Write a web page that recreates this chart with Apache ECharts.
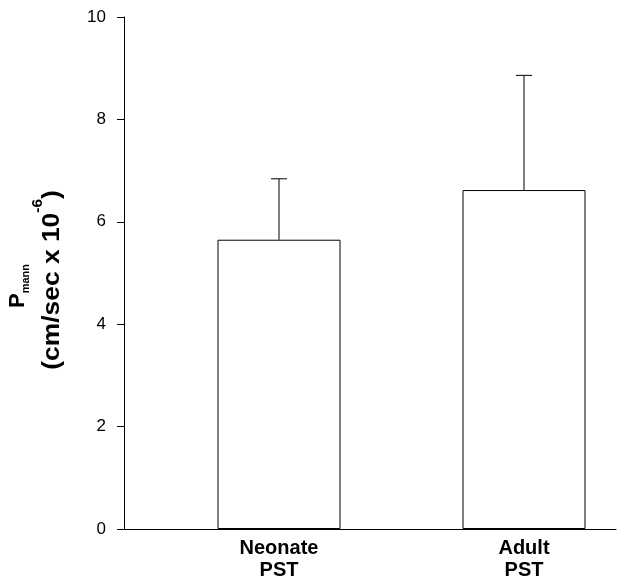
<!DOCTYPE html>
<html><head><meta charset="utf-8">
<script src="https://cdn.jsdelivr.net/npm/echarts@6/dist/echarts.min.js"></script>
<style>html,body{margin:0;padding:0;background:#fff}#c{width:624px;height:583px}</style>
</head><body><div id="c"></div>
<script>
const categories = ['Neonate\nPST', 'Adult\nPST'];
const means = [5.65, 6.62];
const errors = [1.19, 2.24];
const yMin = 0, yMax = 10, yStep = 2;

const FONT = "'Liberation Sans', Arial, Helvetica, sans-serif";
const chart = echarts.init(document.getElementById('c'), null, {renderer: 'canvas'});
const errData = means.map((m, i) => [i, m, m + errors[i]]);

chart.setOption({
  animation: false,
  backgroundColor: '#fff',
  grid: [
    {left: 124, top: 17, width: 492, height: 512},
    {left: 279, top: 17, width: 245, height: 512}
  ],
  xAxis: [
    {gridIndex: 0, type: 'category', data: ['', ''],
     axisLine: {show: true, lineStyle: {color: '#000', width: 1}},
     axisTick: {show: false}, axisLabel: {show: false}, splitLine: {show: false}},
    {gridIndex: 1, type: 'category', data: categories, boundaryGap: false,
     axisLine: {show: false}, axisTick: {show: false}, splitLine: {show: false},
     axisLabel: {color: '#000', fontFamily: FONT, fontWeight: 'bold', fontSize: 20, lineHeight: 22, margin: 8, interval: 0}}
  ],
  yAxis: [
    {gridIndex: 0, type: 'value', min: yMin, max: yMax, interval: yStep,
     axisLine: {show: true, lineStyle: {color: '#000', width: 1}},
     axisTick: {show: true, length: 7, lineStyle: {color: '#000'}},
     axisLabel: {color: '#000', fontFamily: FONT, fontSize: 17, margin: 18},
     splitLine: {show: false}},
    {gridIndex: 1, type: 'value', min: yMin, max: yMax, interval: yStep, show: false,
     splitLine: {show: false}}
  ],
  graphic: [
    {type: 'text', rotation: Math.PI / 2, x: 19, y: 286, z: 10,
     style: {text: '{p|P}{s|mann}', align: 'center', verticalAlign: 'middle', fill: '#000',
       rich: {
         p: {fontFamily: FONT, fontWeight: 'bold', fontSize: 22, lineHeight: 24, verticalAlign: 'top', fill: '#000'},
         s: {fontFamily: FONT, fontWeight: 'bold', fontSize: 11, lineHeight: 11, verticalAlign: 'bottom', fill: '#000'}
       }}},
    {type: 'text', rotation: Math.PI / 2, x: 47.5, y: 280, scaleX: 1.1, z: 10,
     style: {text: '{u|(cm/sec x 10}{e|-6}{u|)}', align: 'center', verticalAlign: 'middle', fill: '#000',
       rich: {
         u: {fontFamily: FONT, fontWeight: 'bold', fontSize: 24, lineHeight: 33, verticalAlign: 'bottom', fill: '#000'},
         e: {fontFamily: FONT, fontWeight: 'bold', fontSize: 14, lineHeight: 14, verticalAlign: 'top', fill: '#000'}
       }}}
  ],
  series: [
    {type: 'bar', xAxisIndex: 1, yAxisIndex: 1, data: means, barWidth: 123,
     itemStyle: {color: '#fff', borderColor: '#000', borderWidth: 1}, z: 2},
    {type: 'custom', xAxisIndex: 1, yAxisIndex: 1, data: errData, z: 3,
     encode: {x: 0, y: [1, 2]}, clip: false,
     renderItem: function (params, api) {
       const x = api.value(0);
       const top = api.coord([x, api.value(2)]);
       const base = api.coord([x, api.value(1)]);
       const hw = 8;
       return {type: 'group', children: [
         {type: 'line', shape: {x1: top[0], y1: top[1], x2: base[0], y2: base[1]}, style: {stroke: '#000', lineWidth: 1}},
         {type: 'line', shape: {x1: top[0] - hw, y1: top[1], x2: top[0] + hw, y2: top[1]}, style: {stroke: '#000', lineWidth: 1}}
       ]};
     }}
  ]
});
</script></body></html>
